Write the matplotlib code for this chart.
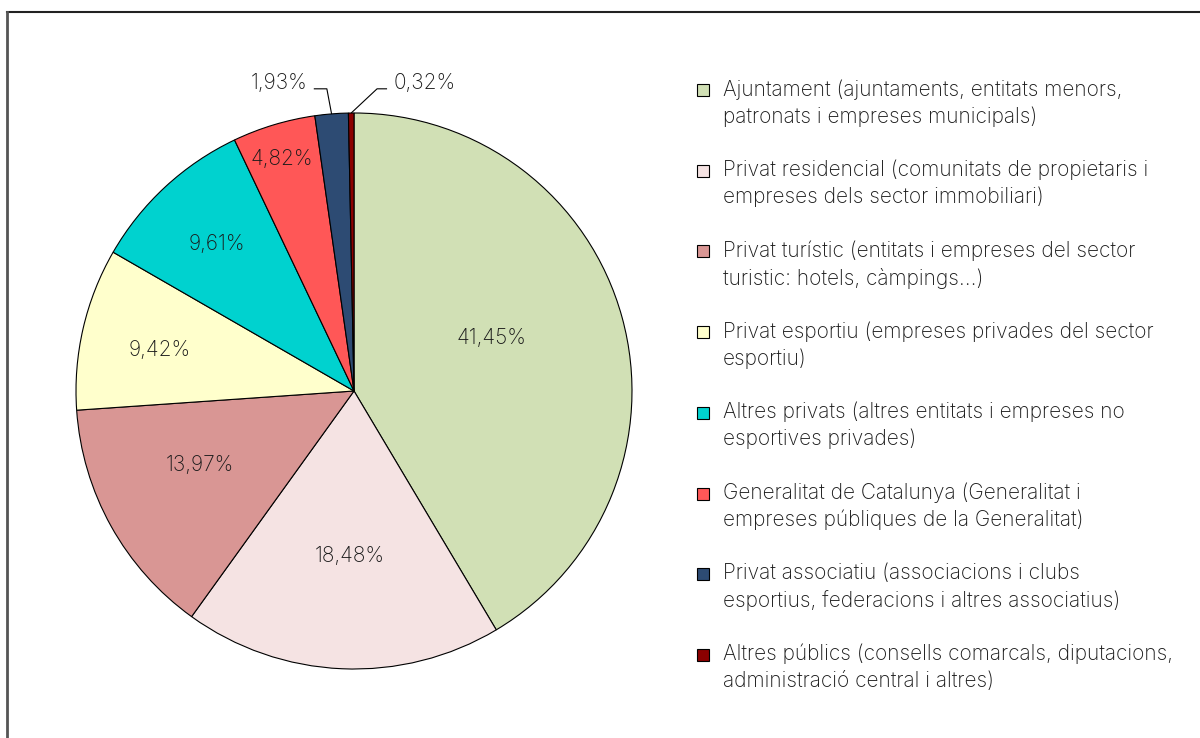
import numpy as np
import matplotlib
matplotlib.use("Agg")
import matplotlib.pyplot as plt
from matplotlib.patches import Rectangle
from matplotlib.lines import Line2D

categories = [
    "Ajuntament (ajuntaments, entitats menors,\npatronats i empreses municipals)",
    "Privat residencial (comunitats de propietaris i\nempreses dels sector immobiliari)",
    "Privat turístic (entitats i empreses del sector\nturistic: hotels, càmpings...)",
    "Privat esportiu (empreses privades del sector\nesportiu)",
    "Altres privats (altres entitats i empreses no\nesportives privades)",
    "Generalitat de Catalunya (Generalitat i\nempreses públiques de la Generalitat)",
    "Privat associatiu (associacions i clubs\nesportius, federacions i altres associatius)",
    "Altres públics (consells comarcals, diputacions,\nadministració central i altres)",
]
values = [41.45, 18.48, 13.97, 9.42, 9.61, 4.82, 1.93, 0.32]
value_labels = ["41,45%", "18,48%", "13,97%", "9,42%", "9,61%", "4,82%", "1,93%", "0,32%"]
colors = ["#D1E0B5", "#F5E3E3", "#D99694", "#FFFFCC", "#00D2CF", "#FF5757", "#2D4B73", "#8B0000"]

# label placement style (radius fraction, angle shift in degrees)
label_dist = [0.53, 0.594, 0.615, 0.713, 0.723, 0.874]
label_shift = [5.8, 1.1, -3.4, 1.0, 0.2, 0.4]

FONT = "Inter"
WEIGHT = "light"
W, H = 1200, 738
fig = plt.figure(figsize=(W / 100, H / 100), dpi=100)

cx, cy, R = 354, 391, 278
lim = 1.2
side = 2 * R * lim
ax = fig.add_axes([(cx - side / 2) / W, (H - cy - side / 2) / H, side / W, side / H])
wedges, _ = ax.pie(values, colors=colors, startangle=90, counterclock=False,
                   wedgeprops=dict(edgecolor="black", linewidth=0.8))
ax.set_xlim(-lim, lim)
ax.set_ylim(-lim, lim)
ax.set_aspect("equal")
ax.axis("off")

fs = 15
tcol = "#1a1a1a"
for i, w in enumerate(wedges):
    mid = np.deg2rad((w.theta1 + w.theta2) / 2)
    if i < len(label_dist):
        a = mid + np.deg2rad(label_shift[i])
        d = label_dist[i]
        ax.text(d * np.cos(a), d * np.sin(a), value_labels[i], ha="center", va="center",
                fontsize=fs, family=FONT, weight=WEIGHT, color=tcol)
    else:
        ex, ey = np.cos(mid), np.sin(mid)
        left = (i == 6)
        elbow_x = ex - 0.017 if left else ex + 0.093
        elbow_y = 1.087
        end_x = elbow_x - 0.047 if left else elbow_x + 0.036
        ax.plot([ex, elbow_x, end_x], [ey, elbow_y, elbow_y], color="black", lw=0.8,
                clip_on=False, solid_capstyle="butt")
        tx = end_x - 0.022 if left else end_x + 0.025
        ax.text(tx, elbow_y + 0.02, value_labels[i], ha="right" if left else "left",
                va="center", fontsize=fs, family=FONT, weight=WEIGHT, color=tcol)

# legend
pitch = 80.7
for i, lab in enumerate(categories):
    y0 = 90 + pitch * i
    fig.add_artist(Rectangle((697 / W, (H - y0 - 6) / H), 12 / W, 12 / H,
                             transform=fig.transFigure, facecolor=colors[i],
                             edgecolor="black", linewidth=0.8))
    fig.text(723 / W, (H - y0 + 11) / H, lab, ha="left", va="top", fontsize=fs,
             family=FONT, weight=WEIGHT, color=tcol, linespacing=1.4)

# frame
fig.add_artist(Line2D([7 / W, 1], [(H - 12) / H, (H - 12) / H], transform=fig.transFigure,
                      color="#222222", lw=1.5))
fig.add_artist(Line2D([7 / W, 7 / W], [0, (H - 12) / H], transform=fig.transFigure,
                      color="#555555", lw=2))

fig.savefig("out.png", dpi=100)
